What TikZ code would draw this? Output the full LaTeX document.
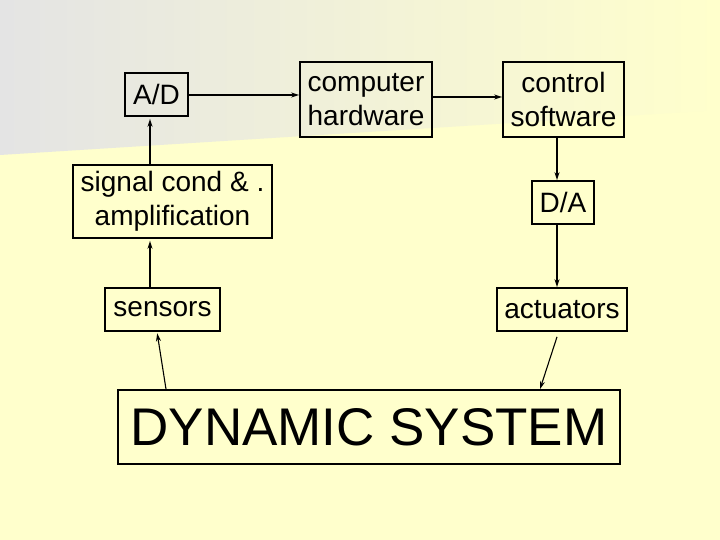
\documentclass[tikz,border=0pt]{standalone}
\usepackage{fontspec}
\setmainfont{Liberation Sans}
\usepackage{xcolor}
\usetikzlibrary{positioning,calc,arrows.meta}
\definecolor{slideyellow}{RGB}{255,255,204}
\definecolor{slidegray}{RGB}{228,228,228}

\begin{document}
\begin{tikzpicture}[
    x=1pt, y=-1pt,
    blockbox/.style={draw, line width=1.8pt, rectangle, inner sep=2pt, align=center,
        font=\fontsize{28}{34}\selectfont},
    bigbox/.style={draw, line width=1.8pt, rectangle, font=\fontsize{53}{60}\selectfont},
    flow/.style={-{Stealth[length=8pt,width=5pt]}, line width=1.8pt},
    thinflow/.style={-{Stealth[length=8pt,width=5pt]}, line width=1.1pt}
]
    % background
    \useasboundingbox (0,0) rectangle (720,540);
    \fill[slideyellow] (0,0) rectangle (720,540);
    \shade[left color=slidegray, middle color=slidegray!70!slideyellow, right color=slideyellow]
        (0,0) -- (720,0) -- (720,110) -- (0,155) -- cycle;

    % blocks
    \node[blockbox, minimum width=63pt, minimum height=43pt] (ad) at (156.5,94.5) {A/D};
    \node[blockbox, minimum width=132pt, minimum height=75pt] (hw) at (366,99.5) {computer\\hardware};
    \node[blockbox, minimum width=121pt, minimum height=75pt] (sw) at (563.5,99.5) {control\\software};
    \node[blockbox, minimum width=199pt, minimum height=73pt] (sig) at (172.5,201.5) {signal cond \& .\\amplification};
    \node[blockbox, minimum width=62pt, minimum height=43pt] (da) at (563,202.5) {D/A};
    \node[blockbox, minimum width=115pt, minimum height=43pt] (sens) at (162.5,309.5) {sensors};
    \node[blockbox, minimum width=130pt, minimum height=43pt] (act) at (562,309.5) {actuators};
    \node[bigbox, minimum width=502pt, minimum height=74pt] (dyn) at (369,427) {DYNAMIC SYSTEM};

    % connections
    \draw[flow] ([yshift=-0.5pt]ad.east) -- ([yshift=-0.5pt]ad.east -| hw.west);
    \draw[flow] ([yshift=2.5pt]hw.east) -- ([yshift=2.5pt]hw.east -| sw.west);
    \draw[flow] ([xshift=-6.5pt]sw.south) -- ([xshift=-6.5pt]sw.south |- da.north);
    \draw[flow] ([xshift=-6pt]da.south) -- ([xshift=-6pt]da.south |- act.north);
    \draw[flow, shorten >=2pt] ([xshift=-12.5pt]sens.north) -- ([xshift=-12.5pt]sens.north |- sig.south);
    \draw[flow, shorten >=2pt] ([xshift=-22.5pt]sig.north) -- ([xshift=-22.5pt]sig.north |- ad.south);
    \draw[thinflow, shorten >=1.5pt] ([xshift=-203pt]dyn.north) -- ([xshift=-5.5pt]sens.south);
    \draw[thinflow] ([xshift=-5pt,yshift=-5pt]act.south) -- ([xshift=171pt]dyn.north);
\end{tikzpicture}
\end{document}
